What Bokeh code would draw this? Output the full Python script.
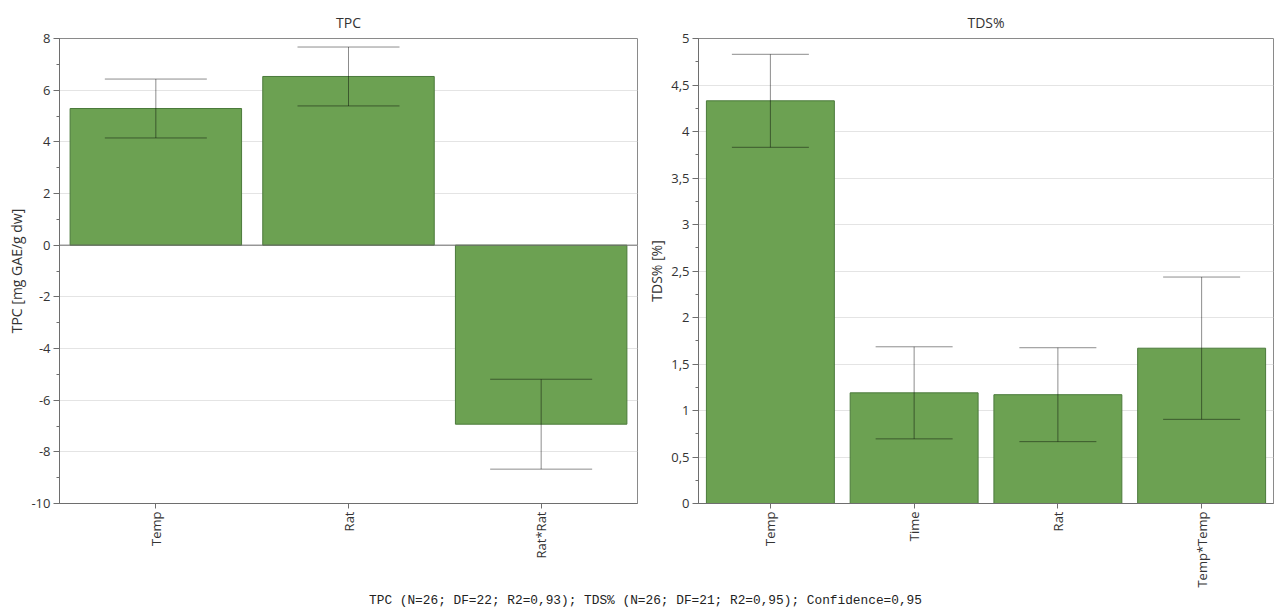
import math
from bokeh.plotting import figure
from bokeh.layouts import column, row
from bokeh.models import (ColumnDataSource, Whisker, TeeHead, FixedTicker,
                          SingleIntervalTicker, Span, Range1d)
from bokeh.embed import file_html
from bokeh.resources import INLINE
from bokeh.core.properties import value

# Scaled regression coefficients with 95 % confidence half-widths
tpc_terms = ["Temp", "Rat", "Rat*Rat"]
tpc_coef = [5.29, 6.53, -6.93]
tpc_ci = [1.14, 1.14, 1.74]

tds_terms = ["Temp", "Time", "Rat", "Temp*Temp"]
tds_coef = [4.33, 1.19, 1.17, 1.67]
tds_ci = [0.50, 0.495, 0.505, 0.765]

footer_text = "TPC (N=26; DF=22; R2=0,93); TDS% (N=26; DF=21; R2=0,95); Confidence=0,95"

FONT = "Open Sans"
BAR_FILL = "#6ca152"
BAR_LINE = "#4b7a3b"
TEXT = "#333333"
AXIS = "#6e6e6e"


def comma(v):
    return ("%g" % v).replace(".", ",")


def panel(title, terms, coef, ci, y0, y1, step, ylabel, width,
          border_left, border_right, cap_px):
    x = list(range(len(terms)))
    src = ColumnDataSource(dict(
        x=x, top=coef,
        upper=[c + e for c, e in zip(coef, ci)],
        lower=[c - e for c, e in zip(coef, ci)],
    ))
    p = figure(width=width, height=592, output_backend="svg",
               toolbar_location=None, title=title,
               x_range=Range1d(-0.5, len(terms) - 0.5), y_range=Range1d(y0, y1),
               min_border_left=border_left, min_border_right=border_right,
               min_border_top=38, min_border_bottom=89)
    p.title.align = "center"
    p.title.vertical_align = "top"
    p.title.text_font = FONT
    p.title.text_font_size = "14px"
    p.title.text_font_style = "normal"
    p.title.text_color = TEXT
    p.title.standoff = 10

    p.outline_line_color = "#8a8a8a"
    p.background_fill_color = "white"
    p.border_fill_color = "white"

    p.xgrid.visible = False
    p.ygrid.grid_line_color = "#e4e4e4"
    p.ygrid.grid_line_width = 1

    p.vbar(x="x", top="top", bottom=0, width=0.89, source=src,
           fill_color=BAR_FILL, line_color=BAR_LINE, line_width=1)
    p.add_layout(Span(location=0, dimension="width",
                      line_color=AXIS, line_width=1))

    w = Whisker(base="x", upper="upper", lower="lower", source=src,
                level="overlay",
                line_color="black", line_alpha=0.45, line_width=1,
                upper_head=TeeHead(size=cap_px, line_color="black", line_alpha=0.45),
                lower_head=TeeHead(size=cap_px, line_color="black", line_alpha=0.45))
    p.add_layout(w)

    # x axis: one tick per model term, labels reading bottom-to-top
    xa = p.xaxis[0]
    xa.ticker = FixedTicker(ticks=x)
    xa.major_label_overrides = {i: t for i, t in enumerate(terms)}
    xa.major_label_orientation = math.pi / 2
    xa.minor_tick_line_color = None
    xa.major_tick_out = 5
    xa.major_tick_in = 0
    xa.axis_line_color = AXIS
    xa.major_tick_line_color = AXIS
    xa.major_label_text_font = FONT
    xa.major_label_text_font_size = "13px"
    xa.major_label_text_color = TEXT
    xa.major_label_standoff = 3

    ya = p.yaxis[0]
    ya.ticker = SingleIntervalTicker(interval=step, num_minor_ticks=2)
    n = int(round((y1 - y0) / step))
    ya.major_label_overrides = {round(y0 + i * step, 6): comma(round(y0 + i * step, 6))
                                for i in range(n + 1)}
    ya.axis_label = ylabel
    ya.axis_label_text_font = FONT
    ya.axis_label_text_font_size = "14px"
    ya.axis_label_text_font_style = "normal"
    ya.axis_label_text_color = TEXT
    ya.axis_label_standoff = 2
    ya.major_label_text_font = FONT
    ya.major_label_text_font_size = "13px"
    ya.major_label_text_color = TEXT
    ya.major_label_standoff = 3
    ya.major_tick_out = 6
    ya.major_tick_in = 0
    ya.minor_tick_out = 3
    ya.minor_tick_in = 0
    ya.axis_line_color = AXIS
    ya.major_tick_line_color = AXIS
    ya.minor_tick_line_color = AXIS
    return p


p_tpc = panel("TPC", tpc_terms, tpc_coef, tpc_ci, -10, 8, 2,
              "TPC [mg GAE/g dw]", 640, 59, 3, 102)
p_tds = panel("TDS%", tds_terms, tds_coef, tds_ci, 0, 5, 0.5,
              "TDS% [%]", 634, 58, 1, 77)

foot = figure(width=1274, height=15, output_backend="svg", toolbar_location=None,
              x_range=Range1d(0, 1274), y_range=Range1d(0, 15),
              min_border=0, outline_line_color=None)
foot.axis.visible = False
foot.grid.visible = False
foot.text(x=[645], y=[7], text=[footer_text], text_align="center",
          text_baseline="middle", text_font=value("Liberation Mono"),
          text_font_size="12.8px", text_color="#222222")

layout = column(row(p_tpc, p_tds), foot)
open("out.html", "w").write(file_html(layout, INLINE))
